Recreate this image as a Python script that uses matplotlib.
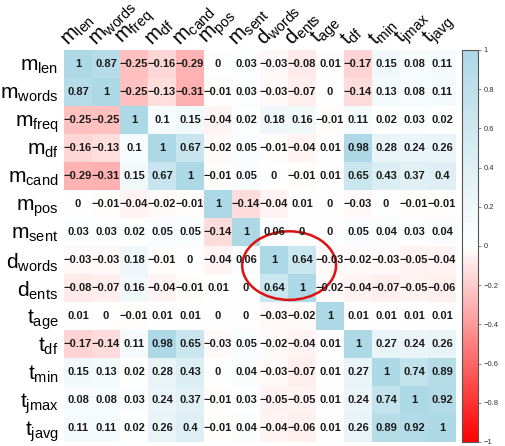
import numpy as np
import matplotlib
matplotlib.use("Agg")
import matplotlib.pyplot as plt
from matplotlib.colors import LinearSegmentedColormap
from matplotlib.patches import Ellipse

plt.rcParams['mathtext.fontset'] = 'custom'
plt.rcParams['mathtext.rm'] = 'Liberation Sans'
plt.rcParams['mathtext.it'] = 'Liberation Sans:italic'
plt.rcParams['font.family'] = ['Liberation Sans', 'DejaVu Sans']

names = ['m_len', 'm_words', 'm_freq', 'm_df', 'm_cand', 'm_pos', 'm_sent',
         'd_words', 'd_ents', 't_age', 't_df', 't_min', 't_jmax', 't_javg']

corr = [
    [1, 0.87, -0.25, -0.16, -0.29, 0, 0.03, -0.03, -0.08, 0.01, -0.17, 0.15, 0.08, 0.11],
    [0.87, 1, -0.25, -0.13, -0.31, -0.01, 0.03, -0.03, -0.07, 0, -0.14, 0.13, 0.08, 0.11],
    [-0.25, -0.25, 1, 0.1, 0.15, -0.04, 0.02, 0.18, 0.16, -0.01, 0.11, 0.02, 0.03, 0.02],
    [-0.16, -0.13, 0.1, 1, 0.67, -0.02, 0.05, -0.01, -0.04, 0.01, 0.98, 0.28, 0.24, 0.26],
    [-0.29, -0.31, 0.15, 0.67, 1, -0.01, 0.05, 0, -0.01, 0.01, 0.65, 0.43, 0.37, 0.4],
    [0, -0.01, -0.04, -0.02, -0.01, 1, -0.14, -0.04, 0.01, 0, -0.03, 0, -0.01, -0.01],
    [0.03, 0.03, 0.02, 0.05, 0.05, -0.14, 1, 0.06, 0, 0, 0.05, 0.04, 0.03, 0.04],
    [-0.03, -0.03, 0.18, -0.01, 0, -0.04, 0.06, 1, 0.64, -0.03, -0.02, -0.03, -0.05, -0.04],
    [-0.08, -0.07, 0.16, -0.04, -0.01, 0.01, 0, 0.64, 1, -0.02, -0.04, -0.07, -0.05, -0.06],
    [0.01, 0, -0.01, 0.01, 0.01, 0, 0, -0.03, -0.02, 1, 0.01, 0.01, 0.01, 0.01],
    [-0.17, -0.14, 0.11, 0.98, 0.65, -0.03, 0.05, -0.02, -0.04, 0.01, 1, 0.27, 0.24, 0.26],
    [0.15, 0.13, 0.02, 0.28, 0.43, 0, 0.04, -0.03, -0.07, 0.01, 0.27, 1, 0.74, 0.89],
    [0.08, 0.08, 0.03, 0.24, 0.37, -0.01, 0.03, -0.05, -0.05, 0.01, 0.24, 0.74, 1, 0.92],
    [0.11, 0.11, 0.02, 0.26, 0.4, -0.01, 0.04, -0.04, -0.06, 0.01, 0.26, 0.89, 0.92, 1],
]
corr = np.array(corr)


def label(n):
    base, sub = n.split('_')
    return r'$\mathrm{%s}_{\mathrm{%s}}$' % (base, sub)


def fmt(v):
    s = ('%.2f' % v).rstrip('0').rstrip('.')
    if s in ('-0', ''):
        s = '0'
    return s.replace('-', '\u2212')


W, H = 506, 446
fig = plt.figure(figsize=(W / 100, H / 100), dpi=100)
ax = fig.add_axes([64 / W, (H - 442) / H, 392 / W, 392 / H])
cax = fig.add_axes([462 / W, (H - 442) / H, 16 / W, 392 / H])

cmap = LinearSegmentedColormap.from_list('rwb', ['red', 'white', 'lightblue'])
n = len(names)
im = ax.imshow(corr, cmap=cmap, vmin=-1, vmax=1, aspect='auto',
               extent=(-0.5, n - 0.5, n - 0.5, -0.5))

for i in range(n):
    for j in range(n):
        ax.text(j, i, fmt(corr[i, j]), ha='center', va='center',
                fontsize=8, fontweight='bold', color='#1a1a1a')

ax.set_xlim(-0.5, n - 0.5)
ax.set_ylim(n - 0.5, -0.5)
ax.set_xticks([])
ax.set_yticks(range(n))
ax.set_yticklabels([label(s) for s in names], fontsize=15)
ax.tick_params(axis='y', length=0, pad=4)
for sp in ax.spines.values():
    sp.set_visible(False)

for j, s in enumerate(names):
    ax.text(j - 0.2, -0.5, label(s), rotation=45, rotation_mode='anchor',
            ha='left', va='bottom', fontsize=14.5)

# highlight the d_words / d_ents block
ax.add_patch(Ellipse((7.54, 7.2), 3.35, 2.45, fill=False, edgecolor='#e01010',
                     linewidth=1.8, clip_on=False))

ticks = np.round(np.arange(-1, 1.01, 0.2), 1)
cb = fig.colorbar(im, cax=cax, ticks=ticks)
cb.ax.set_yticklabels([fmt(t) for t in ticks])
cb.ax.tick_params(labelsize=5.5, length=2, width=0.5, color='#555555',
                  labelcolor='#333333', pad=2)
cb.outline.set_edgecolor('#555555')
cb.outline.set_linewidth(0.8)

fig.savefig('out.png', dpi=100)
